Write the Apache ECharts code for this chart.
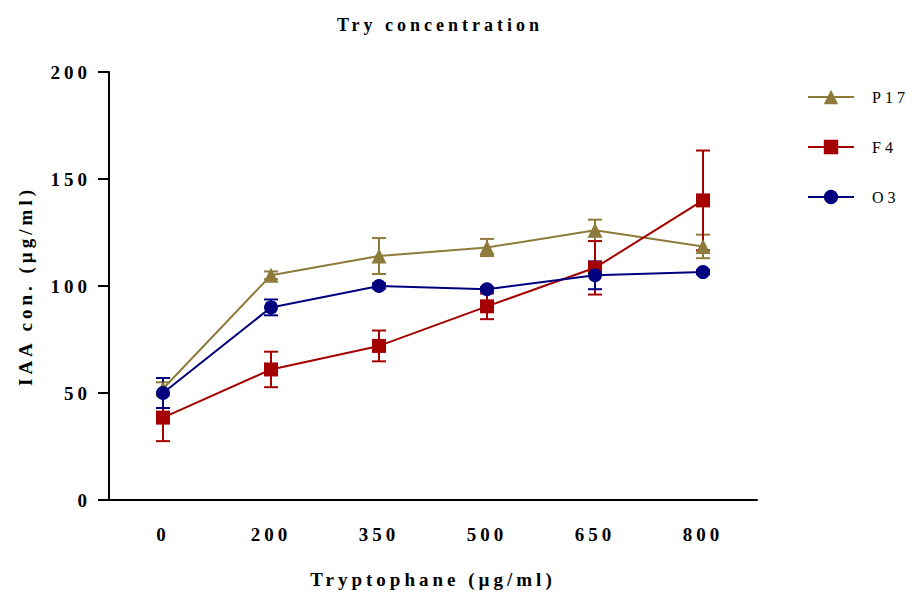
<!DOCTYPE html>
<html>
<head>
<meta charset="utf-8">
<script src="https://cdn.jsdelivr.net/npm/echarts@6/dist/echarts.min.js"></script>
<style>
  html, body { margin: 0; padding: 0; background: #fff; }
  #chart { width: 912px; height: 594px; }
  #chart text { letter-spacing: 4px; }
</style>
</head>
<body>
<div id="chart"></div>
<script>
// Tryptophan doses (µg/ml) on the x axis
const doses = ['0', '200', '350', '500', '650', '800'];

// Mean IAA production (µg/ml) per strain
const p17Mean = [52, 105, 114, 118, 126, 118.5];
const f4Mean  = [38.5, 61, 72, 90.5, 108.5, 140];
const o3Mean  = [50, 90, 100, 98.5, 105, 106.5];

// Error bar half-widths
const p17Err = [3, 1.8, 8.4, 4, 5, 5.5];
const f4Err  = [11, 8.3, 7.2, 6, 12.5, 23.3];
const o3Err  = [7, 3.7, 1.2, 1, 6.5, 1];

const yTicks = { min: 0, max: 200, interval: 50 };

const colors = { P17: '#8E7B3B', F4: '#A50000', O3: '#00007F' };
const serif = 'Liberation Serif';

function errorData(mean, err) {
  return mean.map((m, i) => [i, m - err[i], m + err[i]]);
}

function errorSeries(name, mean, err, color) {
  return {
    type: 'custom',
    name: name + ' SEM',
    data: errorData(mean, err),
    encode: { x: 0, y: [1, 2] },
    silent: true,
    itemStyle: { color: color },
    renderItem: function (params, api) {
      const x = api.value(0);
      const lo = api.coord([x, api.value(1)]);
      const hi = api.coord([x, api.value(2)]);
      const half = 7;
      const style = { stroke: color, lineWidth: 2 };
      return {
        type: 'group',
        children: [
          { type: 'line', shape: { x1: lo[0], y1: lo[1], x2: hi[0], y2: hi[1] }, style: style },
          { type: 'line', shape: { x1: lo[0] - half, y1: lo[1], x2: lo[0] + half, y2: lo[1] }, style: style },
          { type: 'line', shape: { x1: hi[0] - half, y1: hi[1], x2: hi[0] + half, y2: hi[1] }, style: style }
        ]
      };
    }
  };
}

function lineSeries(name, mean, symbol, color) {
  return {
    type: 'line',
    name: name,
    data: mean,
    symbol: symbol,
    symbolSize: symbol === 'triangle' ? 15 : 14,
    showAllSymbol: true,
    color: color,
    lineStyle: { color: color, width: 2 },
    itemStyle: { color: color, opacity: 1 },
    emphasis: { disabled: true }
  };
}

const chart = echarts.init(document.getElementById('chart'), null, { renderer: 'svg' });

chart.setOption({
  animation: false,
  backgroundColor: '#fff',
  title: {
    text: 'Try concentration',
    left: 435,
    textAlign: 'center',
    top: 11,
    textStyle: { fontFamily: serif, fontWeight: 'bold', fontSize: 18, color: '#000' }
  },
  legend: {
    orient: 'vertical',
    left: 802,
    top: 84,
    itemWidth: 46,
    itemHeight: 18,
    itemGap: 34,
    data: ['P17', 'F4', 'O3'],
    textStyle: { fontFamily: serif, fontSize: 16, color: '#000', padding: [0, 0, 0, 13] }
  },
  grid: { left: 109, right: 155, top: 72, bottom: 92, containLabel: false },
  xAxis: {
    type: 'category',
    data: doses,
    boundaryGap: true,
    name: 'Tryptophane (µg/ml)',
    nameLocation: 'middle',
    nameGap: 70,
    nameTextStyle: { fontFamily: serif, fontWeight: 'bold', fontSize: 19, color: '#000' },
    axisLine: { lineStyle: { color: '#000', width: 2 } },
    axisTick: { alignWithLabel: true, length: 11, lineStyle: { color: '#000', width: 2 } },
    axisLabel: { margin: 25, fontFamily: serif, fontWeight: 'bold', fontSize: 19, color: '#000' },
    splitLine: { show: false }
  },
  yAxis: {
    type: 'value',
    min: yTicks.min,
    max: yTicks.max,
    interval: yTicks.interval,
    name: 'IAA con. (µg/ml)',
    nameLocation: 'middle',
    nameGap: 74,
    nameRotate: 90,
    nameTextStyle: { fontFamily: serif, fontWeight: 'bold', fontSize: 19, color: '#000' },
    axisLine: { show: true, lineStyle: { color: '#000', width: 2 } },
    axisTick: { show: true, length: 11, lineStyle: { color: '#000', width: 2 } },
    axisLabel: { margin: 18, fontFamily: serif, fontWeight: 'bold', fontSize: 19, color: '#000' },
    splitLine: { show: false }
  },
  series: [
    errorSeries('P17', p17Mean, p17Err, colors.P17),
    lineSeries('P17', p17Mean, 'triangle', colors.P17),
    errorSeries('F4', f4Mean, f4Err, colors.F4),
    lineSeries('F4', f4Mean, 'rect', colors.F4),
    errorSeries('O3', o3Mean, o3Err, colors.O3),
    lineSeries('O3', o3Mean, 'circle', colors.O3)
  ]
});
</script>
</body>
</html>
